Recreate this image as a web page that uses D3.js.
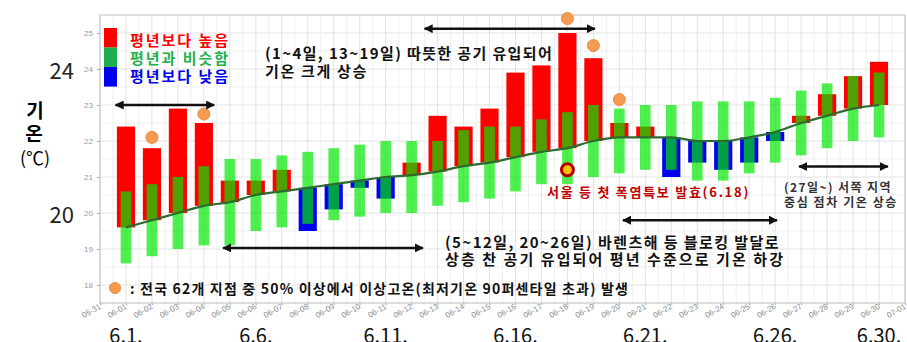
<!DOCTYPE html>
<html><head><meta charset="utf-8">
<script src="https://cdn.jsdelivr.net/npm/d3@7"></script>
<style>body{margin:0;background:#fff}svg{display:block}</style>
</head><body><svg id="c" width="907" height="342"></svg>
<script>
// ---- data ----
const days = [1,2,3,4,5,6,7,8,9,10,11,12,13,14,15,16,17,18,19,20,21,22,23,24,25,26,27,28,29,30];
const normal = [19.6,19.8,20.0,20.2,20.3,20.5,20.6,20.7,20.8,20.9,21.0,21.05,21.15,21.3,21.4,21.55,21.7,21.8,22.0,22.1,22.1,22.1,22.0,22.0,22.1,22.25,22.5,22.7,22.9,23.0];
const actual = [22.4,21.8,22.9,22.5,20.9,20.9,21.2,19.5,20.1,20.7,20.4,21.4,22.7,22.4,22.9,23.9,24.1,25.0,24.3,22.5,22.4,21.0,21.4,21.2,21.4,22.0,22.7,23.3,23.8,24.2];
const simLow = [18.6,18.8,19.0,19.1,19.1,19.5,19.6,19.7,19.8,19.9,20.0,20.0,20.2,20.3,20.4,20.6,20.8,20.8,21.0,21.1,21.2,21.2,20.9,20.9,21.1,21.4,21.6,21.8,22.0,22.1];
const simHigh = [20.6,20.8,21.0,21.3,21.5,21.5,21.6,21.7,21.8,21.9,22.0,22.0,22.0,22.3,22.4,22.4,22.6,22.8,23.0,22.9,23.0,23.0,23.1,23.1,23.1,23.2,23.4,23.6,23.8,23.9];
const heatDays = [2,4,18,19,20];
const heatVals = [22.1,22.75,25.4,24.65,23.15];
const warnDay = 18, warnVal = 21.2;
const xTickLabels = ["05-31","06-01","06-02","06-03","06-04","06-05","06-06","06-07","06-08","06-09","06-10","06-11","06-12","06-13","06-14","06-15","06-16","06-17","06-18","06-19","06-20","06-21","06-22","06-23","06-24","06-25","06-26","06-27","06-28","06-29","06-30","07-01"];
const yTicks = [18,19,20,21,22,23,24,25];
const bigDays = [1,6,11,16,21,26,30];
const bigDayLabels = ["6.1.","6.6.","6.11.","6.16.","6.21.","6.26.","6.30."];
const bigYVals = [24,20];
const legendItems = ["평년보다 높음","평년과 비슷함","평년보다 낮음"];

// ---- setup ----
const svg = d3.select("#c");
const L=100, R=905, T=15, B=303;
const toDate = s => new Date(2023, +s.slice(0,2)-1, +s.slice(3,5));
const tickDates = xTickLabels.map(toDate);
const x = d3.scaleTime().domain([tickDates[0], tickDates[tickDates.length-1]]).range([L,R]);
const xd = d => x(new Date(2023,5,1).getTime() + (d-1)*864e5);
const y = d3.scaleLinear().domain([17.5,25.5]).range([B,T]);
const dw = xd(2)-xd(1);
const KR = "'Noto Sans CJK KR','Noto Sans',sans-serif";

// grid
const g = svg.append("g");
const minorY = d3.range(17.5,25.51,0.5).filter(v=>!yTicks.includes(v));
g.selectAll(".my").data(minorY).join("line").attr("x1",L).attr("x2",R).attr("y1",d=>y(d)).attr("y2",d=>y(d)).attr("stroke","#efefef");
g.selectAll(".gy").data(yTicks).join("line").attr("x1",L).attr("x2",R).attr("y1",d=>y(d)).attr("y2",d=>y(d)).attr("stroke","#e2e2e2");
const halfDays = d3.range(0,31).map(i=>xd(i+0.5));
g.selectAll(".mx").data(halfDays).join("line").attr("y1",T).attr("y2",B).attr("x1",d=>d).attr("x2",d=>d).attr("stroke","#efefef");
g.selectAll(".gx").data(tickDates).join("line").attr("y1",T).attr("y2",B).attr("x1",d=>x(d)).attr("x2",d=>x(d)).attr("stroke","#e2e2e2");
svg.append("rect").attr("x",L).attr("y",T).attr("width",R-L).attr("height",B-T).attr("fill","none").attr("stroke","#c4c4c4");

// axes
const yAxis = svg.append("g").attr("transform",`translate(${L},0)`).call(d3.axisLeft(y).tickValues(yTicks).tickSize(3).tickFormat(d3.format("d")));
yAxis.select(".domain").remove();
yAxis.selectAll("line").attr("stroke","#aaa");
yAxis.selectAll("text").attr("fill","#9a9a9a").attr("font-size",8).attr("font-family","'Liberation Sans',Arial,sans-serif").attr("dx",-1);
const xAxis = svg.append("g").attr("transform",`translate(0,${B})`).call(d3.axisBottom(x).tickValues(tickDates).tickSize(2).tickFormat((d,i)=>xTickLabels[i]));
xAxis.select(".domain").remove();
xAxis.selectAll("line").attr("stroke","#aaa");
xAxis.selectAll("text").attr("fill","#8a8a8a").attr("font-size",8).attr("font-family","'Liberation Sans',Arial,sans-serif")
  .attr("text-anchor","end").attr("y",0).attr("dy",0).attr("transform","translate(1,5) rotate(-30)");

// bars
const data = days.map((d,i)=>({d, n:normal[i], a:actual[i], lo:simLow[i], hi:simHigh[i]}));
const bw = dw*0.7, gw = dw*0.41;
svg.append("g").selectAll("rect").data(data).join("rect")
  .attr("x",d=>xd(d.d)-bw/2).attr("width",bw)
  .attr("y",d=>y(Math.max(d.a,d.n))).attr("height",d=>Math.abs(y(d.a)-y(d.n)))
  .attr("fill",d=>d.a>=d.n?"#ff0000":"#0000f0");
svg.append("g").selectAll("rect").data(data).join("rect")
  .attr("x",d=>xd(d.d)-gw/2).attr("width",gw)
  .attr("y",d=>y(d.hi)).attr("height",d=>y(d.lo)-y(d.hi))
  .attr("fill","rgb(0,232,0)").attr("fill-opacity",0.69);

// normal line
svg.append("path").datum(data).attr("fill","none").attr("stroke","#2d6a2f").attr("stroke-width",2.2)
  .attr("d",d3.line().x(d=>xd(d.d)).y(d=>y(d.n)).curve(d3.curveMonotoneX));

// heat dots
svg.append("g").selectAll("circle").data(heatDays.map((d,i)=>({d,v:heatVals[i]}))).join("circle")
  .attr("cx",d=>xd(d.d)).attr("cy",d=>y(d.v)).attr("r",6).attr("fill","#f59a52").attr("stroke","#ec8a40").attr("stroke-width",1);
svg.append("circle").attr("cx",xd(warnDay)).attr("cy",y(warnVal)).attr("r",6).attr("fill","#ffc000").attr("stroke","#b50000").attr("stroke-width",3);

// text fitting via letter-spacing
function fit(sel,w){ sel.each(function(){ const len=this.getComputedTextLength(); const n=this.textContent.length; this.setAttribute("letter-spacing", ((w-len)/n).toFixed(2)); }); return sel; }

// legend
const lg = svg.append("g");
const lc = ["#ff0000","#1fae4f","#0000f0"];
const lt = ["#ff0000","#22b14c","#0000f0"];
lc.forEach((c,i)=>lg.append("rect").attr("x",104).attr("y",28+i*19.5).attr("width",13).attr("height",19.6).attr("fill",c));
legendItems.forEach((t,i)=>fit(lg.append("text").attr("x",130).attr("y",39.5+i*18).attr("dominant-baseline","central")
  .attr("font-family",KR).attr("font-weight",700).attr("font-size",15).attr("fill",lt[i]).text(t),100));

// arrows
const defs = svg.append("defs");
defs.append("marker").attr("id","ah").attr("viewBox","0 0 10 10").attr("refX",9).attr("refY",5)
  .attr("markerWidth",9).attr("markerHeight",9).attr("markerUnits","userSpaceOnUse").attr("orient","auto-start-reverse")
  .append("path").attr("d","M0,0 L10,5 L0,10 z").attr("fill","#111");
const arrows = [[0.6,4.4,23.0],[12.5,19.06,25.12],[4.74,12.44,19.03],[20.14,26.07,19.8],[26.92,30.34,21.29]];
svg.append("g").selectAll("line").data(arrows).join("line")
  .attr("x1",d=>xd(d[0])).attr("x2",d=>xd(d[1])).attr("y1",d=>y(d[2])).attr("y2",d=>y(d[2]))
  .attr("stroke","#111").attr("stroke-width",2.5).attr("marker-start","url(#ah)").attr("marker-end","url(#ah)");

// annotations
function ann(t,xp,yp,w,col,fs,wt){ return fit(svg.append("text").attr("x",xp).attr("y",yp).attr("dominant-baseline","central")
  .attr("font-family",KR).attr("font-weight",wt||700).attr("font-size",fs||15).attr("fill",col||"#111").text(t),w); }
ann("(1~4일, 13~19일) 따뜻한 공기 유입되어",265,52,288);
ann("기온 크게 상승",265,70,103);
ann("(5~12일, 20~26일) 바렌츠해 등 블로킹 발달로",445,241,335);
ann("상층 찬 공기 유입되어 평년 수준으로 기온 하강",445,258,340);
ann("서울 등 첫 폭염특보 발효(6.18)",547,191,203,"#c00000",13);
ann("(27일~) 서쪽 지역",784,186,108,"#333",12);
ann("중심 점차 기온 상승",784,201,114,"#333",12);
svg.append("circle").attr("cx",115).attr("cy",288).attr("r",5.5).attr("fill","#f59a52").attr("stroke","#ec8a40");
ann(": 전국 62개 지점 중 50% 이상에서 이상고온(최저기온 90퍼센타일 초과) 발생",130,288,499,"#111",14);

// big labels
svg.append("g").selectAll("text").data(bigYVals).join("text").attr("x",74).attr("y",d=>y(d)).attr("dominant-baseline","central")
  .attr("text-anchor","end").attr("font-family",KR).attr("font-size",22).attr("fill","#222").text(d=>d);
svg.append("text").attr("x",35).attr("y",109).attr("dominant-baseline","central").attr("text-anchor","middle").attr("font-family",KR).attr("font-weight",700).attr("font-size",19).text("기");
svg.append("text").attr("x",34).attr("y",132).attr("dominant-baseline","central").attr("text-anchor","middle").attr("font-family",KR).attr("font-weight",700).attr("font-size",19).text("온");
svg.append("text").attr("x",35).attr("y",157).attr("dominant-baseline","central").attr("text-anchor","middle").attr("font-family",KR).attr("font-size",18).text("(℃)");
svg.append("g").selectAll("text").data(bigDays).join("text").attr("x",d=>xd(d)).attr("y",343).attr("text-anchor","middle")
  .attr("font-family",KR).attr("font-size",20).attr("fill","#111").text((d,i)=>bigDayLabels[i]);
</script></body></html>
